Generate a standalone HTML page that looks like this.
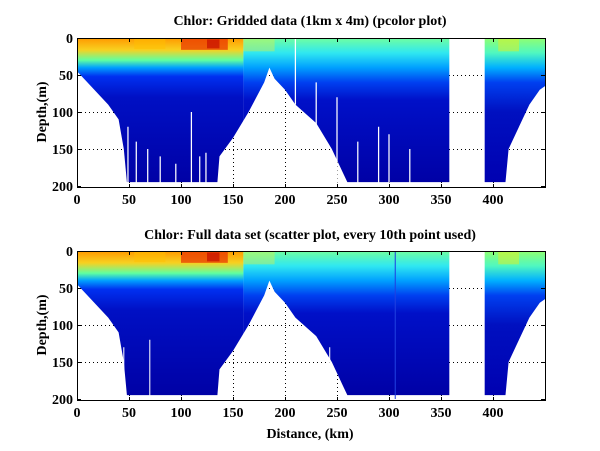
<!DOCTYPE html>
<html><head><style>
body{margin:0;background:#fff}
svg{display:block}
text{font-family:"Liberation Serif",serif;font-weight:bold;font-size:14px;fill:#000}
</style></head><body>
<svg width="600" height="451" viewBox="0 0 600 451">
<defs>
<linearGradient id="gw" gradientUnits="userSpaceOnUse" x1="0" y1="0" x2="0" y2="200">
<stop offset="0" stop-color="#ff9800"/><stop offset=".08" stop-color="#f8d020"/><stop offset=".15" stop-color="#60ffa0"/><stop offset=".2" stop-color="#00a0ff"/><stop offset=".26" stop-color="#0030f0"/><stop offset=".4" stop-color="#0010c4"/><stop offset="1" stop-color="#0000a4"/></linearGradient>
<linearGradient id="gc" gradientUnits="userSpaceOnUse" x1="0" y1="0" x2="0" y2="200">
<stop offset="0" stop-color="#70ffa0"/><stop offset=".1" stop-color="#30e8f0"/><stop offset=".2" stop-color="#00a0ff"/><stop offset=".3" stop-color="#0040f0"/><stop offset=".42" stop-color="#0010c8"/><stop offset="1" stop-color="#0000a4"/></linearGradient>
<linearGradient id="gr" gradientUnits="userSpaceOnUse" x1="0" y1="0" x2="0" y2="200">
<stop offset="0" stop-color="#90ff70"/><stop offset=".1" stop-color="#50f8c0"/><stop offset=".2" stop-color="#00b0ff"/><stop offset=".3" stop-color="#0040f0"/><stop offset=".5" stop-color="#0010c0"/><stop offset="1" stop-color="#0000b0"/></linearGradient>
<clipPath id="cp"><path d="M0 0 L0 45 L10 60 L20 75 L30 90 L40 110 L45 150 L48 195 L135 195 L137 160 L150 135 L165 100 L180 60 L185 40 L190 55 L200 70 L210 90 L230 115 L245 150 L255 180 L260 195 L358 195 L358 0 Z M392 0 L392 195 L412 195 L415 150 L425 120 L435 90 L445 70 L450 65 L450 0 Z"/></clipPath>
<g id="data" clip-path="url(#cp)">
<rect x="0" y="0" width="160" height="200" fill="url(#gw)"/>
<rect x="160" y="0" width="200" height="200" fill="url(#gc)"/>
<rect x="390" y="0" width="60" height="200" fill="url(#gr)"/>
<rect x="100" y="0" width="45" height="16" fill="#e83000" opacity=".7"/>
<rect x="125" y="2" width="12" height="12" fill="#c00000" opacity=".6"/>
<rect x="55" y="0" width="30" height="15" fill="#ffc000" opacity=".5"/>
<rect x="160" y="0" width="30" height="18" fill="#e0f040" opacity=".4"/>
<rect x="405" y="0" width="20" height="18" fill="#e0f020" opacity=".5"/>
</g>
<g id="grid" stroke="#000" stroke-width="1" stroke-dasharray="1,3">
<path d="M52.5 0V148 M104.5 0V148 M156.5 0V148 M208.5 0V148 M260.5 0V148 M312.5 0V148 M364.5 0V148 M416.5 0V148 M0 37.5H468 M0 74.5H468 M0 111.5H468"/>
</g>
<g id="frame" fill="none" stroke="#000">
<rect x="0.5" y="0.5" width="468" height="149"/>
<path d="M52.5 0v4M104.5 0v4M156.5 0v4M208.5 0v4M260.5 0v4M312.5 0v4M364.5 0v4M416.5 0v4M52.5 150v-4M104.5 150v-4M156.5 150v-4M208.5 150v-4M260.5 150v-4M312.5 150v-4M364.5 150v-4M416.5 150v-4M0 37.5h4M0 74.5h4M0 111.5h4M0 148.5h4M468 37.5h-4M468 74.5h-4M468 111.5h-4M468 148.5h-4"/>
</g>
</defs>

<g transform="translate(77,38)">
<use href="#grid"/>
<g transform="scale(1.04,0.74)"><use href="#data"/>
<g stroke="#fff" stroke-width="1.2"><path d="M49 120V200M57 140V200M68 150V200M80 160V200M95 170V200M110 100V200M118 160V200M124 155V200M210 0V90M230 60V200M250 80V200M270 140V200M290 120V200M300 130V200M320 150V200"/></g></g>
<use href="#frame"/>
</g>
<g transform="translate(77,251)">
<use href="#grid"/>
<g transform="scale(1.04,0.74)"><use href="#data"/>
<path d="M45 130V200M70 120V200M243 130V200" stroke="#fff" stroke-width="1"/>
<path d="M306 0V200" stroke="#2040e0" stroke-width="1"/></g>
<use href="#frame"/>
</g>

<text x="310" y="25" text-anchor="middle">Chlor: Gridded data (1km x 4m) (pcolor plot)</text>
<text x="310" y="239" text-anchor="middle">Chlor: Full data set (scatter plot, every 10th point used)</text>
<text x="310" y="438" text-anchor="middle">Distance, (km)</text>
<text transform="translate(46,112) rotate(-90)" text-anchor="middle">Depth,(m)</text>
<text transform="translate(46,325) rotate(-90)" text-anchor="middle">Depth,(m)</text>

<g text-anchor="end">
<text x="73" y="43">0</text><text x="73" y="80">50</text><text x="73" y="117">100</text><text x="73" y="154">150</text><text x="73" y="191">200</text>
<text x="73" y="256">0</text><text x="73" y="293">50</text><text x="73" y="330">100</text><text x="73" y="367">150</text><text x="73" y="404">200</text>
</g>
<g text-anchor="middle">
<text x="77" y="204">0</text><text x="129" y="204">50</text><text x="181" y="204">100</text><text x="233" y="204">150</text><text x="285" y="204">200</text><text x="337" y="204">250</text><text x="389" y="204">300</text><text x="441" y="204">350</text><text x="493" y="204">400</text>
<text x="77" y="417">0</text><text x="129" y="417">50</text><text x="181" y="417">100</text><text x="233" y="417">150</text><text x="285" y="417">200</text><text x="337" y="417">250</text><text x="389" y="417">300</text><text x="441" y="417">350</text><text x="493" y="417">400</text>
</g>
</svg>
</body></html>
